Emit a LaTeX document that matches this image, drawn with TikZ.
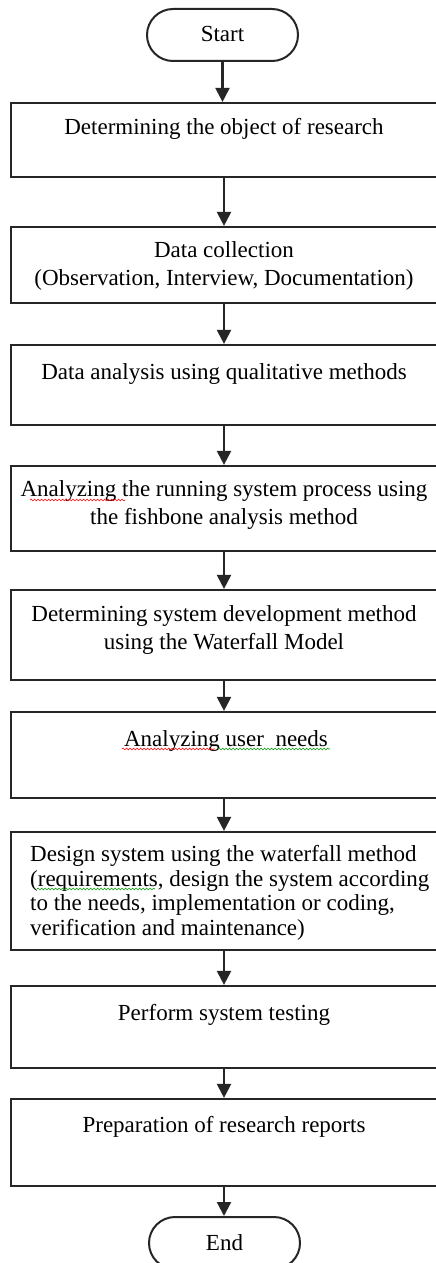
\documentclass[tikz,border=0pt]{standalone}
\usepackage{fontspec}
\setmainfont{Liberation Serif}
\usetikzlibrary{arrows.meta,decorations.pathmorphing}
\begin{document}
\begin{tikzpicture}[x=1pt,y=-1pt,
  box/.style={draw=black!85,line width=2.2pt,rectangle,inner sep=0pt,minimum width=426pt},
  term/.style={draw=black!85,line width=2pt,rectangle,rounded corners=26pt,inner sep=0pt,minimum width=151pt,minimum height=52pt},
  txt/.style={inner sep=0pt,align=center,font=\fontsize{23}{27.5}\selectfont},
  arr/.style={line width=2.2pt,draw=black!85,-{Triangle[length=14pt,width=14pt]}},
  squig/.style={line width=0.6pt,decorate,decoration={snake,amplitude=0.9pt,segment length=3.5pt}}
]
\useasboundingbox (0,0) rectangle (436,1263);
\clip (0,0) rectangle (436,1263);
\fill[white] (0,0) rectangle (436,1263);

% terminators
\node[term] (start) at (222.5,35) {};
\node[txt,anchor=base] (tstart) at (222.5,42) {Start};
\node[term] (end) at (224.5,1243) {};
\node[txt,anchor=base] (tend) at (224.5,1250) {End};

% boxes
\node[box,minimum height=74pt] (b1) at (224,140) {};
\node[box,minimum height=76pt] (b2) at (224,265) {};
\node[box,minimum height=80pt] (b3) at (224,385) {};
\node[box,minimum height=85pt] (b4) at (224,508.5) {};
\node[box,minimum height=90pt] (b5) at (224,635) {};
\node[box,minimum height=86pt] (b6) at (224,755) {};
\node[box,minimum height=118pt] (b7) at (224,891) {};
\node[box,minimum height=82pt] (b8) at (224,1027) {};
\node[box,minimum height=87pt] (b9) at (224,1142.5) {};

% texts (multi-line nodes: base = last line baseline)
\node[txt,anchor=base] (t1) at (224,134) {Determining the object of research};
\node[txt,anchor=base] (t2) at (224,285) {Data collection\\(Observation, Interview, Documentation)};
\node[txt,anchor=base] (t3) at (224,379) {Data analysis using qualitative methods};
\node[txt,anchor=base] (t4) at (224,524) {Analyzing the running system process using\\the fishbone analysis method};
\node[txt,anchor=base] (t5) at (224,649) {Determining system development method\\using the Waterfall Model};
\node[txt,anchor=base] (t6) at (226,746) {Analyzing user\ \ needs};
\node[txt,anchor=base west,align=left,font=\fontsize{23}{24.5}\selectfont] (t7) at (30,935) {Design system using the waterfall method\\(requirements, design the system according\\to the needs, implementation or coding,\\verification and maintenance)};
\node[txt,anchor=base] (t8) at (224,1020) {Perform system testing};
\node[txt,anchor=base] (t9) at (224,1132) {Preparation of research reports};

% spell-check squiggles
\draw[squig,red] (30,500) -- (125,500);
\draw[squig,red] (122,749) -- (215,749);
\draw[squig,green!60!black] (218,749) -- (330,749);
\draw[squig,green!60!black] (37,889) -- (155,889);

% connectors
\draw[arr] (start.south) -- (b1.north -| start.south);
\draw[arr] (b1) -- (b2);
\draw[arr] (b2) -- (b3);
\draw[arr] (b3) -- (b4);
\draw[arr] (b4) -- (b5);
\draw[arr] (b5) -- (b6);
\draw[arr] (b6) -- (b7);
\draw[arr] (b7) -- (b8);
\draw[arr] (b8) -- (b9);
\draw[arr] (b9.south) -- (end.north -| b9.south);
\end{tikzpicture}
\end{document}
